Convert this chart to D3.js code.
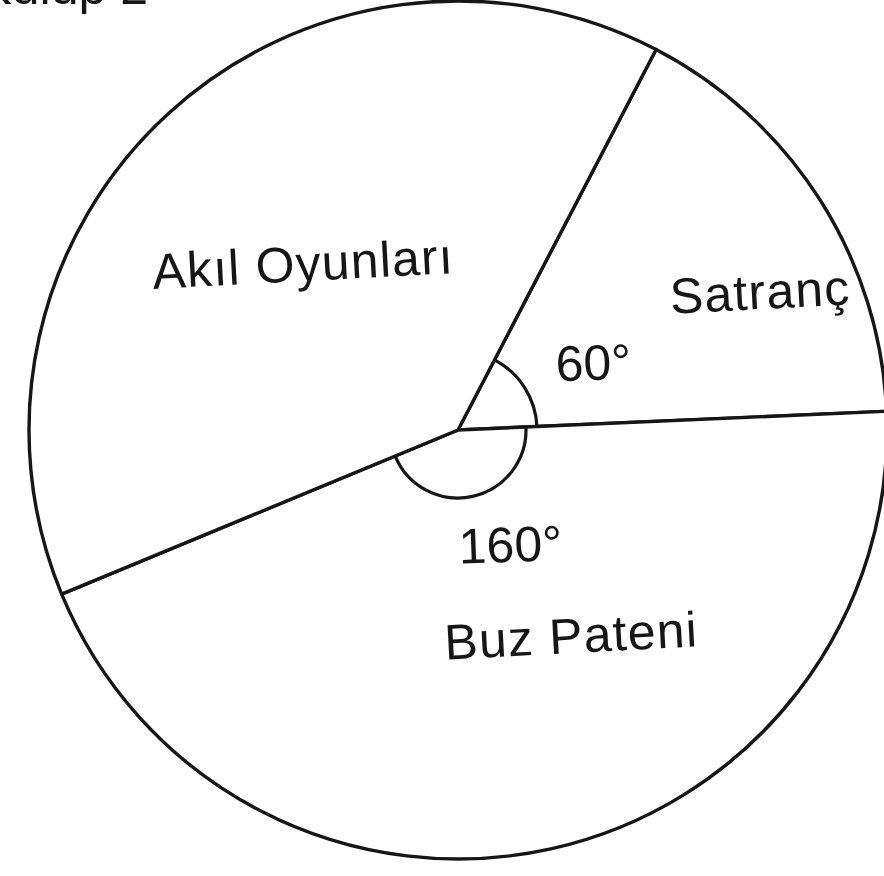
<!DOCTYPE html>
<html>
<head>
<meta charset="utf-8">
<script src="https://cdn.jsdelivr.net/npm/d3@7"></script>
<style>
  html, body { margin: 0; padding: 0; background: #fff; overflow: hidden; }
  svg { display: block; }
  text { font-family: "Liberation Sans", Arial, Helvetica, sans-serif; fill: #161616; }
</style>
</head>
<body>
<svg id="chart" width="884" height="876"></svg>
<script>
// Activity shares, in degrees of the circle
const categories = ["Satranç", "Buz Pateni", "Akıl Oyunları"];
const degrees = [60, 160, 140];
// Angle markers drawn inside the two labelled slices
const markedSlices = ["Satranç", "Buz Pateni"];
const markerLabels = ["60°", "160°"];
const title = "Kulüp 2";

const svg = d3.select("#chart");
const cx = 458, cy = 430, radius = 429;
const startDeg = 27.5;
const ink = "#161616";

const rad = d => d * Math.PI / 180;

const pie = d3.pie()
  .sort(null)
  .value(d => d.value)
  .startAngle(rad(startDeg))
  .endAngle(rad(startDeg + 360));

const data = categories.map((c, i) => ({ name: c, value: degrees[i] }));
const arcs = pie(data);

const g = svg.append("g").attr("transform", `translate(${cx},${cy})`);

// slices: white fill, black outline -> circle plus three radii
const sliceArc = d3.arc().innerRadius(0).outerRadius(radius);
g.selectAll("path.slice")
  .data(arcs)
  .join("path")
  .attr("class", "slice")
  .attr("d", sliceArc)
  .attr("fill", "#fff")
  .attr("stroke", ink)
  .attr("stroke-width", 3.4)
  .attr("stroke-linejoin", "round");

// angle marker arcs at the centre
const markerRadius = { "Satranç": 79, "Buz Pateni": 68 };
g.selectAll("path.marker")
  .data(arcs.filter(a => markedSlices.includes(a.data.name)))
  .join("path")
  .attr("class", "marker")
  .attr("d", a => d3.arc()
    .innerRadius(markerRadius[a.data.name])
    .outerRadius(markerRadius[a.data.name])
    .startAngle(a.startAngle)
    .endAngle(a.endAngle)())
  .attr("fill", "none")
  .attr("stroke", ink)
  .attr("stroke-width", 3.2);

// slice names (offsets from the centre)
const namePos = {
  "Akıl Oyunları": [-154, -149],
  "Satranç": [303, -121],
  "Buz Pateni": [114, 223]
};
g.selectAll("text.name")
  .data(arcs)
  .join("text")
  .attr("class", "name")
  .attr("transform", a => `translate(${namePos[a.data.name][0]},${namePos[a.data.name][1]}) rotate(-3)`)
  .attr("text-anchor", "middle")
  .attr("font-size", 50)
  .attr("letter-spacing", 1.2)
  .text(a => a.data.name);

// degree labels next to the markers
const degPos = { "Satranç": [136, -50], "Buz Pateni": [53, 132] };
g.selectAll("text.deg")
  .data(arcs.filter(a => markedSlices.includes(a.data.name)))
  .join("text")
  .attr("class", "deg")
  .attr("transform", a => `translate(${degPos[a.data.name][0]},${degPos[a.data.name][1]}) rotate(-2)`)
  .attr("text-anchor", "middle")
  .attr("font-size", 50)
  .text((a, i) => markerLabels[i]);

// heading, running off the top edge
svg.append("text")
  .attr("x", 148)
  .attr("y", 4)
  .attr("text-anchor", "end")
  .attr("font-size", 50)
  .text(title);
</script>
</body>
</html>
